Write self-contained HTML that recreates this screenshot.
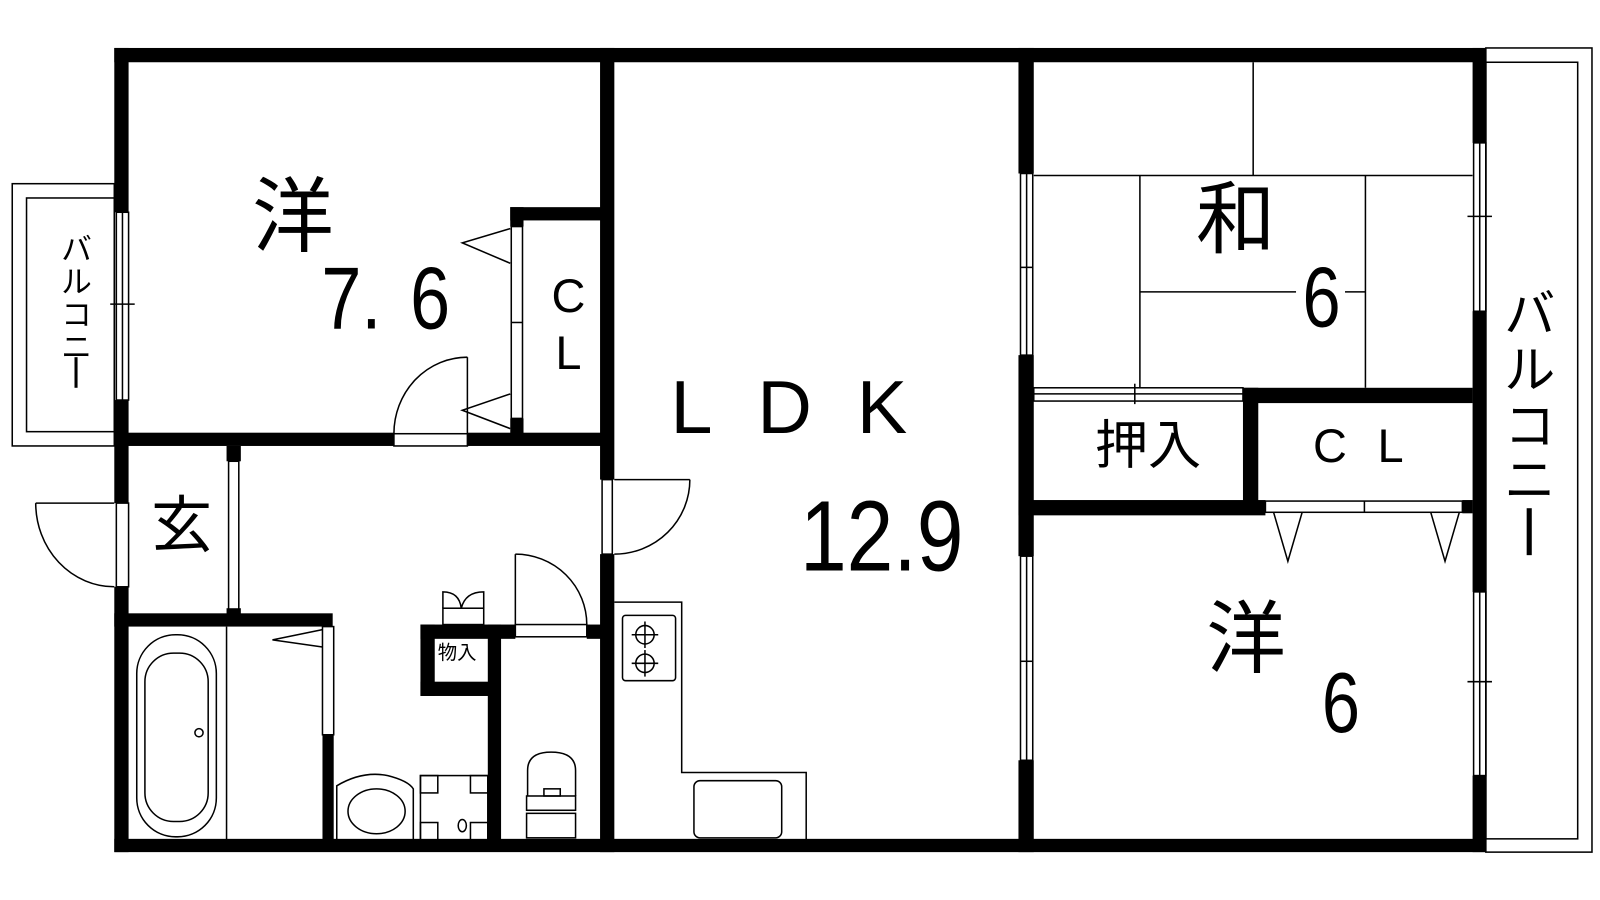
<!DOCTYPE html>
<html><head><meta charset="utf-8"><style>
html,body{margin:0;padding:0;background:#fff;}
svg{display:block;}
text{font-family:"Liberation Sans","Noto Sans CJK JP",sans-serif;fill:#000;}
</style></head><body>
<svg width="1600" height="900" viewBox="0 0 1600 900" xmlns="http://www.w3.org/2000/svg">
<g transform="scale(1.0205)">
<g fill="none" stroke="#000" stroke-width="1.5">
<rect x="12" y="180" width="100" height="257"/>
<rect x="26" y="194" width="86" height="229"/>
<rect x="1456" y="47" width="104" height="788"/>
<rect x="1456" y="61" width="90" height="761"/>
<rect x="114" y="208" width="12" height="184"/><line x1="120" y1="208" x2="120" y2="392"/><line x1="108" y1="298" x2="132" y2="298"/>
<rect x="114" y="493" width="12" height="82"/>
<rect x="1444" y="140" width="12" height="165"/><line x1="1450" y1="140" x2="1450" y2="305"/><line x1="1438" y1="212" x2="1462" y2="212"/>
<rect x="1444" y="580" width="12" height="180"/><line x1="1450" y1="580" x2="1450" y2="760"/><line x1="1438" y1="668" x2="1462" y2="668"/>
<rect x="1000" y="170" width="12" height="178"/><line x1="1006" y1="170" x2="1006" y2="348"/><line x1="1000" y1="262" x2="1012" y2="262"/>
<rect x="1000" y="545" width="12" height="200"/><line x1="1006" y1="545" x2="1006" y2="745"/><line x1="1000" y1="648" x2="1012" y2="648"/>
<line x1="1228" y1="61" x2="1228" y2="172"/>
<line x1="1013" y1="172" x2="1443" y2="172"/>
<line x1="1117" y1="172" x2="1117" y2="380"/>
<line x1="1338" y1="172" x2="1338" y2="380"/>
<line x1="1117" y1="286" x2="1270" y2="286"/><line x1="1318" y1="286" x2="1338" y2="286"/>
<rect x="1013" y="380" width="205" height="13"/><line x1="1013" y1="386" x2="1218" y2="386"/><line x1="1112" y1="376" x2="1112" y2="396"/>
<rect x="1240" y="491" width="193" height="11"/><line x1="1337" y1="491" x2="1337" y2="502"/>
<polyline points="1248,502 1262,550 1276,502"/>
<polyline points="1402,502 1416,550 1430,502"/>
<rect x="501" y="222" width="11" height="188"/><line x1="501" y1="316" x2="512" y2="316"/>
<polyline points="500,224 453,238 500,258"/>
<polyline points="500,386 453,402 500,420"/>
<rect x="386" y="425" width="72" height="12"/>
<line x1="458" y1="425" x2="458" y2="350"/>
<path d="M386,425 A72,75 0 0 1 458,350"/>
<rect x="224" y="452" width="10" height="148"/>
<line x1="35" y1="493" x2="112" y2="493"/>
<path d="M35,493 A77,82 0 0 0 112,575"/>
<rect x="590" y="470" width="10" height="73"/>
<line x1="602" y1="470" x2="676" y2="470"/>
<path d="M676,470 A74,73 0 0 1 602,543"/>
<rect x="505" y="612" width="70" height="12"/>
<line x1="505" y1="612" x2="505" y2="543"/>
<path d="M505,543 A70,69 0 0 1 575,612"/>
<rect x="316" y="614" width="11" height="106"/>
<polyline points="316,617 267,627 316,634"/>
<rect x="134" y="622" width="78" height="198" rx="38"/>
<rect x="142" y="640" width="62" height="165" rx="28"/>
<circle cx="195" cy="718" r="4"/>
<line x1="222" y1="614" x2="222" y2="823"/>
<path d="M330,823 L330,770 Q355,755 380,760 Q400,765 405,773 L405,823"/>
<ellipse cx="369" cy="795" rx="28" ry="22"/>
<rect x="412" y="760" width="66" height="63"/>
<rect x="412" y="760" width="17" height="17"/><rect x="461" y="760" width="17" height="17"/>
<rect x="412" y="806" width="17" height="17"/><rect x="461" y="806" width="17" height="17"/>
<ellipse cx="453" cy="809" rx="4" ry="6"/>
<rect x="434" y="596" width="40" height="16"/>
<path d="M434,596 L434,580 Q450,580 452,596 M474,596 L474,580 Q456,580 452,596"/>
<path d="M517,780 L517,755 Q517,737 540,737 Q564,737 564,755 L564,780"/>
<rect x="516" y="780" width="48" height="14"/>
<rect x="533" y="773" width="16" height="7"/>
<rect x="516" y="797" width="48" height="24"/>
<polyline points="602,590 668,590 668,757 790,757 790,823"/>
<rect x="610" y="603" width="52" height="64" rx="3"/>
<circle cx="632" cy="622" r="9"/><circle cx="632" cy="650" r="9"/>
<line x1="632" y1="609" x2="632" y2="635"/><line x1="619" y1="622" x2="645" y2="622"/>
<line x1="632" y1="637" x2="632" y2="663"/><line x1="619" y1="650" x2="645" y2="650"/>
<rect x="680" y="765" width="86" height="56" rx="6"/>
</g>
<g fill="#000">
<rect x="112" y="47" width="1344" height="14"/>
<rect x="112" y="822" width="1344" height="13"/>
<rect x="112" y="47" width="14" height="161"/>
<rect x="112" y="392" width="14" height="101"/>
<rect x="112" y="575" width="14" height="260"/>
<rect x="1443" y="47" width="13" height="93"/>
<rect x="1443" y="305" width="13" height="275"/>
<rect x="1443" y="760" width="13" height="75"/>
<rect x="588" y="47" width="14" height="423"/>
<rect x="588" y="543" width="14" height="292"/>
<rect x="998" y="47" width="15" height="123"/>
<rect x="998" y="348" width="15" height="197"/>
<rect x="998" y="745" width="15" height="90"/>
<rect x="500" y="203" width="90" height="13"/>
<rect x="500" y="203" width="13" height="19"/>
<rect x="500" y="410" width="13" height="15"/>
<rect x="112" y="424" width="274" height="13"/>
<rect x="458" y="424" width="132" height="13"/>
<rect x="222" y="437" width="14" height="15"/>
<rect x="222" y="596" width="14" height="8"/>
<rect x="112" y="601" width="214" height="13"/>
<rect x="316" y="720" width="11" height="103"/>
<rect x="412" y="612" width="93" height="14"/>
<rect x="575" y="612" width="15" height="14"/>
<rect x="412" y="612" width="14" height="70"/>
<rect x="412" y="668" width="78" height="14"/>
<rect x="478" y="612" width="13" height="211"/>
<rect x="1218" y="380" width="225" height="15"/>
<rect x="1218" y="380" width="15" height="117"/>
<rect x="998" y="490" width="242" height="15"/>
<rect x="1433" y="490" width="10" height="13"/>
</g>
<text x="287" y="213" font-size="80" text-anchor="middle" dominant-baseline="central">洋</text>
<text x="378" y="293" font-size="86" text-anchor="middle" dominant-baseline="central" transform="translate(378,293) scale(0.82,1) translate(-378,-293)">7.&#8201;&#8201;6</text>
<text x="557" y="290" font-size="46" text-anchor="middle" dominant-baseline="central">C</text>
<text x="557" y="346" font-size="46" text-anchor="middle" dominant-baseline="central">L</text>
<text x="178" y="515" font-size="60" text-anchor="middle" dominant-baseline="central">玄</text>
<text x="448" y="640" font-size="19" text-anchor="middle" dominant-baseline="central">物入</text>
<text x="795" y="400" font-size="74" text-anchor="middle" dominant-baseline="central" letter-spacing="44">LDK</text>
<text x="864" y="525" font-size="98" text-anchor="middle" dominant-baseline="central" transform="translate(864,525) scale(0.84,1) translate(-864,-525)">12.9</text>
<text x="1211" y="215" font-size="78" text-anchor="middle" dominant-baseline="central">和</text>
<text x="1295" y="292" font-size="84" text-anchor="middle" dominant-baseline="central" transform="translate(1295,292) scale(0.8,1) translate(-1295,-292)">6</text>
<text x="1125" y="437" font-size="52" text-anchor="middle" dominant-baseline="central">押入</text>
<text x="1346" y="437" font-size="46" text-anchor="middle" dominant-baseline="central" letter-spacing="30">CL</text>
<text x="1221" y="626" font-size="78" text-anchor="middle" dominant-baseline="central">洋</text>
<text x="1314" y="689" font-size="84" text-anchor="middle" dominant-baseline="central" transform="translate(1314,689) scale(0.8,1) translate(-1314,-689)">6</text>
<g font-size="30" text-anchor="middle">
<text x="75" y="245" dominant-baseline="central">バ</text>
<text x="75" y="277" dominant-baseline="central">ル</text>
<text x="75" y="309" dominant-baseline="central">コ</text>
<text x="75" y="341" dominant-baseline="central">ニ</text>
</g>
<g font-size="50" text-anchor="middle">
<text x="1499" y="308" dominant-baseline="central">バ</text>
<text x="1499" y="363" dominant-baseline="central">ル</text>
<text x="1499" y="418" dominant-baseline="central">コ</text>
<text x="1499" y="471" dominant-baseline="central">ニ</text>
</g>
<rect x="1496" y="498" width="5" height="46" fill="#000"/>
<rect x="73" y="350" width="3" height="30" fill="#000"/>
</g>
</svg>
</body></html>
